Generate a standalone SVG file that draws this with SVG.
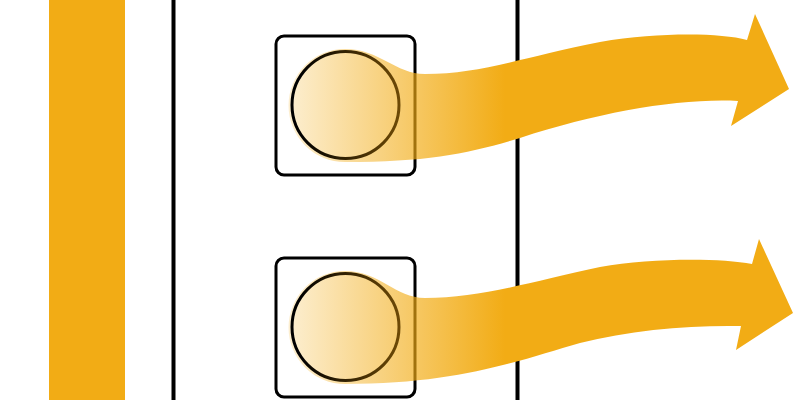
<svg xmlns="http://www.w3.org/2000/svg" width="800" height="400" viewBox="0 0 800 400">
  <defs>
    <linearGradient id="fade" gradientUnits="userSpaceOnUse" x1="235" y1="0" x2="505" y2="0">
      <stop offset="0" stop-color="#F2AC15" stop-opacity="0"/>
      <stop offset="1" stop-color="#F2AC15" stop-opacity="1"/>
    </linearGradient>
    <linearGradient id="ballFill" gradientUnits="userSpaceOnUse" x1="235" y1="0" x2="505" y2="0">
      <stop offset="0" stop-color="#FFFFFF"/>
      <stop offset="1" stop-color="#F2AC15"/>
    </linearGradient>
    <linearGradient id="ballEdge" gradientUnits="userSpaceOnUse" x1="300" y1="0" x2="400" y2="0">
      <stop offset="0" stop-color="#000000"/>
      <stop offset="1" stop-color="#6E4A06"/>
    </linearGradient>
    <style>
      .bar { fill: #F2AC15; }
      .wall { stroke: #000; stroke-width: 4; fill: none; }
      .box { fill: #fff; stroke: #000; stroke-width: 3; }
      .ball { fill: url(#ballFill); stroke: url(#ballEdge); stroke-width: 3; }
      .flow { fill: url(#fade); stroke: none; }
    </style>
  </defs>
  <rect width="800" height="400" fill="#fff"/>

  <g id="source">
    <rect class="bar" x="49" y="0" width="76" height="400"/>
  </g>
  <g id="wall-left">
    <line class="wall" x1="173.5" y1="0" x2="173.5" y2="400"/>
  </g>
  <g id="wall-right">
    <line class="wall" x1="517.5" y1="0" x2="517.5" y2="400"/>
  </g>

  <g id="node-top">
    <rect class="box" x="276" y="36" width="139" height="139" rx="8"/>
  </g>
  <g id="node-bottom">
    <rect class="box" x="276" y="258" width="139" height="139" rx="8"/>
  </g>

  <g id="connectors">
    <path class="flow" d="M345,49 C380,49 395,74 425,74 C480,74 520,58 600,42 C660,32 720,33 747,40 L755,14 L789,89 L731,126 L738,101 C680,98 600,112 520,138 C470,153 430,162 345,162 A56.5,56.5 0 0 1 345,49 Z"/>
    <path class="flow" d="M345,271 C380,271 395,298 425,298 C480,298 530,282 600,267 C650,258 720,258 752,264 L759,239 L793,313 L736,350 L741,326 C690,325 630,330 580,343 C520,360 460,384 345,384 A56.5,56.5 0 0 1 345,271 Z"/>
  </g>

  <g id="ball-top">
    <circle class="ball" cx="345.5" cy="105" r="53.5"/>
  </g>
  <g id="ball-bottom">
    <circle class="ball" cx="345.5" cy="327" r="53.5"/>
  </g>
</svg>
